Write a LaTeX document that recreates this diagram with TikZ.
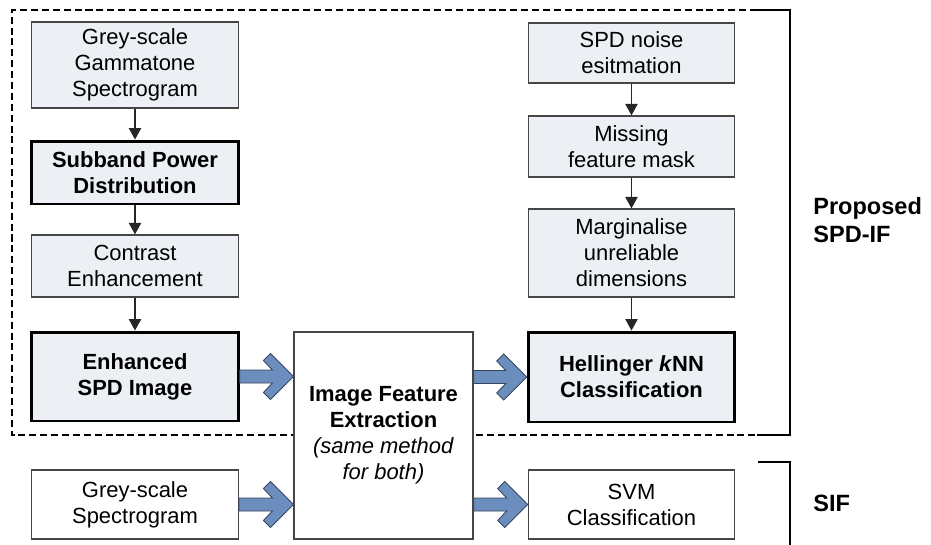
\documentclass[tikz,border=0pt]{standalone}
\usepackage{fontspec}
\setmainfont{Liberation Sans}
\usetikzlibrary{arrows.meta,calc}

\definecolor{boxfill}{RGB}{236,240,245}
\definecolor{arrowblue}{RGB}{108,142,190}
\definecolor{arrowline}{RGB}{55,70,95}
\definecolor{boxline}{RGB}{70,70,70}

\newcommand{\boxfont}{\fontsize{12.5}{14.8}\selectfont}

\tikzset{
	box/.style={draw=boxline, line width=0.7pt, fill=boxfill, align=center,
		inner sep=0pt, minimum width=4.13cm, font=\boxfont},
	keybox/.style={box, draw=black, line width=1.7pt, font=\boxfont\bfseries},
	plainbox/.style={box, fill=white},
	flow/.style={draw=black!85, line width=0.6pt, -{Triangle[length=6.5pt,width=7pt]}},
	fatarr/.style={draw=arrowline, line width=0.5pt, fill=arrowblue},
	frame/.style={line width=1.3pt},
	grouplabel/.style={font=\fontsize{13.4}{15.9}\selectfont\bfseries, align=left,
		anchor=west, inner sep=0pt}
}

% fat arrow, from #1 to tip #2 (horizontal)
\newcommand{\bigarrow}[2]{%
	\path[fatarr] ($(#1)+(0,-6.5)$) -- ($(#2)+(-21,-6.5)$) -- ($(#2)+(-30,-16)$)
		-- ($(#2)+(-23,-23)$) -- (#2) -- ($(#2)+(-23,23)$) -- ($(#2)+(-30,16)$)
		-- ($(#2)+(-21,6.5)$) -- ($(#1)+(0,6.5)$) -- cycle;}

\begin{document}
\begin{tikzpicture}[x=0.02cm, y=-0.02cm]
	\useasboundingbox (0,0) rectangle (931,545);

	\draw[frame, dash pattern=on 4pt off 2.2pt] (757,10) -- (12,10) -- (12,435) -- (757,435);
	\draw[frame] (757,10) -- (790,10) -- (790,435) -- (757,435);
	\draw[frame] (758,462) -- (790,462) -- (790,545);

	\node[box, minimum height=1.72cm] (gammaspec) at (135,65) {Grey-scale\\Gammatone\\Spectrogram};
	\node[keybox, minimum height=1.26cm] (spd) at (135,172.5) {Subband Power\\Distribution};
	\node[box, minimum height=1.24cm] (contrast) at (135,266) {Contrast\\Enhancement};
	\node[keybox, minimum height=1.78cm] (enhanced) at (135,376.5) {Enhanced\\SPD Image};
	\node[plainbox, minimum height=1.38cm] (greyspec) at (135,504.5) {Grey-scale\\Spectrogram};

	\node[plainbox, minimum width=3.58cm, minimum height=4.14cm] (ife) at (383.5,435.5)
		{\textbf{Image Feature}\\\textbf{Extraction}\\\textit{(same method}\\\textit{for both)}};

	\node[box, minimum height=1.2cm] (noise) at (631.5,53) {SPD noise\\esitmation};
	\node[box, minimum height=1.22cm] (mask) at (631.5,146.5) {Missing\\feature mask};
	\node[box, minimum height=1.76cm] (marginal) at (631.5,253) {Marginalise\\unreliable\\dimensions};
	\node[keybox, minimum height=1.8cm] (hellinger) at (631.5,377) {Hellinger \textit{k}NN\\Classification};
	\node[plainbox, minimum height=1.38cm] (svm) at (631.5,504.5) {SVM\\Classification};

	\draw[flow] (gammaspec.south) -- (spd.north);
	\draw[flow] (spd.south) -- (contrast.north);
	\draw[flow] (contrast.south) -- (enhanced.north);
	\draw[flow] (noise.south) -- (mask.north);
	\draw[flow] (mask.south) -- (marginal.north);
	\draw[flow] (marginal.south) -- (hellinger.north);

	\coordinate (ifein1) at (ife.west |- enhanced.east);
	\coordinate (ifein2) at (ife.west |- greyspec.east);
	\coordinate (ifeout1) at (ife.east |- hellinger.west);
	\coordinate (ifeout2) at (ife.east |- svm.west);
	\bigarrow{enhanced.east}{ifein1}
	\bigarrow{greyspec.east}{ifein2}
	\bigarrow{ifeout1}{hellinger.west}
	\bigarrow{ifeout2}{svm.west}

	\node[grouplabel] (proplabel) at (813,220) {Proposed\\SPD-IF};
	\node[grouplabel] (siflabel) at (813,503) {SIF};
\end{tikzpicture}
\end{document}
